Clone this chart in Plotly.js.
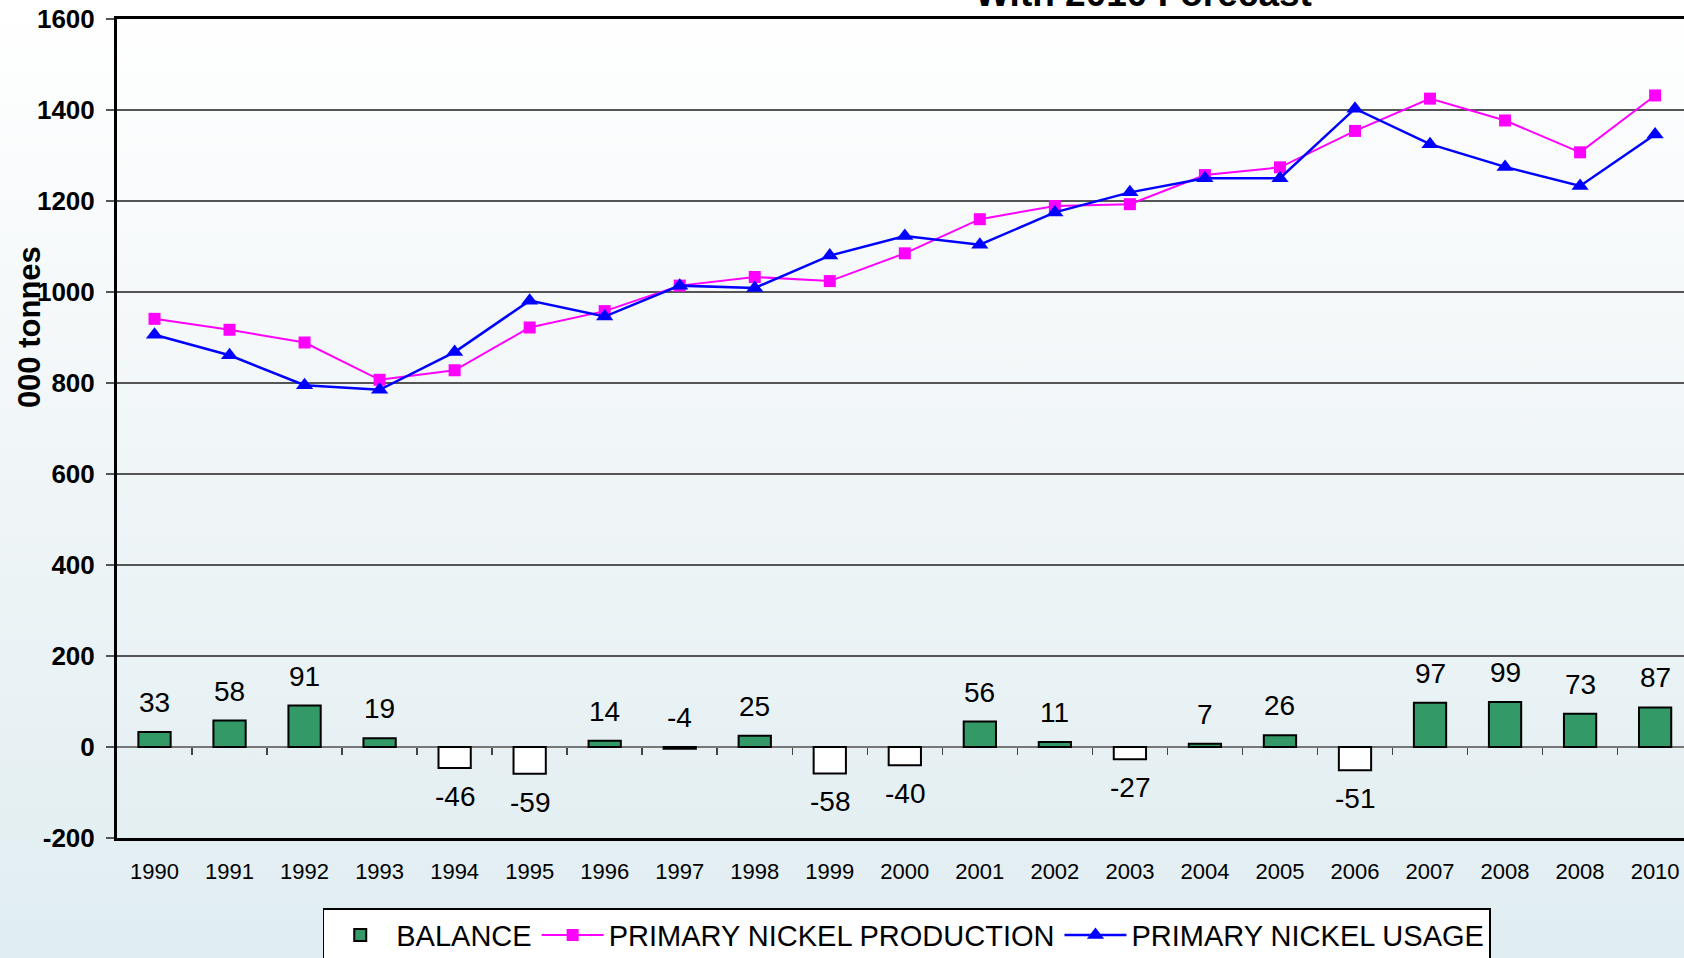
<!DOCTYPE html>
<html><head><meta charset="utf-8">
<script src="https://cdn.plot.ly/plotly-3.0.1.min.js"></script>
<style>
html,body{margin:0;padding:0;width:1684px;height:958px;overflow:hidden;
background:linear-gradient(to bottom,#ffffff 0%,#f1f6f8 45%,#e0edf1 100%);}
#chart{width:1684px;height:958px;}
</style></head><body><div id="chart"></div>
<script>
// ---- data ----
const categories = ['1990','1991','1992','1993','1994','1995','1996','1997','1998','1999','2000',
                    '2001','2002','2003','2004','2005','2006','2007','2008','2008','2010'];
const balance    = [33, 58, 91, 19, -46, -59, 14, -4, 25, -58, -40, 56, 11, -27, 7, 26, -51, 97, 99, 73, 87];
const production = [941, 917, 889, 807, 828, 922, 958, 1014, 1033, 1024, 1085, 1160, 1189, 1193, 1257, 1274, 1354, 1425, 1377, 1307, 1432];
const usage      = [906, 861, 795, 785, 868, 981, 946, 1014, 1009, 1080, 1123, 1104, 1175, 1219, 1250, 1250, 1403, 1325, 1275, 1233, 1346];
const yTicks     = [-200, 0, 200, 400, 600, 800, 1000, 1200, 1400, 1600];
const yTickText  = ['-200', '0', '200', '400', '600', '800', '1000', '1200', '1400', '1600'];
const seriesNames = ['BALANCE', 'PRIMARY NICKEL PRODUCTION', 'PRIMARY NICKEL USAGE'];
const titleText = 'With 2010 Forecast';
const yTitle = '000 tonnes';

const FONT = 'Liberation Sans, Arial, sans-serif';
const idx = categories.map((_, i) => i);
const yRange = [-200, 1600];
const xRange = [-0.5, 20.385];

const traces = [
  {
    type: 'bar', name: seriesNames[0], x: idx, y: balance, width: 0.43,
    marker: { color: balance.map(v => v >= 0 ? '#339966' : '#ffffff'), line: { color: '#000', width: 2 } },
    hoverinfo: 'skip'
  },
  {
    type: 'scatter', mode: 'lines+markers', name: seriesNames[1], x: idx, y: production,
    line: { color: '#ff00ff', width: 2 },
    marker: { symbol: 'square', size: 12, color: '#ff00ff' }, hoverinfo: 'skip'
  },
  {
    type: 'scatter', mode: 'lines+markers', name: seriesNames[2], x: idx, y: usage,
    line: { color: '#0000ff', width: 2.5 },
    marker: { symbol: 'triangle-up', size: 15, color: '#0000ff' }, hoverinfo: 'skip'
  },
  { type: 'scatter', x: [], y: [], xaxis: 'x2', showlegend: false, hoverinfo: 'skip' }
];

const labelAnns = balance.map((v, i) => {
  const above = v > -10;
  return {
    x: i, y: above ? Math.max(v, 0) : v, xref: 'x', yref: 'y',
    text: String(v), showarrow: false,
    yanchor: above ? 'bottom' : 'top', yshift: above ? 12 : -11,
    font: { family: FONT, size: 28, color: '#000' }
  };
});

const layout = {
  width: 1684, height: 958,
  margin: { l: 117, r: 0, t: 19, b: 120, pad: 0, autoexpand: false },
  paper_bgcolor: 'rgba(0,0,0,0)', plot_bgcolor: 'rgba(0,0,0,0)',
  font: { family: FONT, color: '#000' },
  showlegend: true,
  legend: {
    orientation: 'h', x: 0.1313, y: -0.0857, xanchor: 'left', yanchor: 'top',
    bgcolor: '#ffffff', bordercolor: '#000', borderwidth: 1.5,
    font: { family: FONT, size: 29, color: '#000' }, itemwidth: 62, traceorder: 'normal'
  },
  xaxis: {
    type: 'linear', range: xRange, tickmode: 'array', tickvals: idx, ticktext: categories,
    showgrid: false, zeroline: false, showline: true, linecolor: '#000', linewidth: 3, mirror: true,
    ticks: '', tickfont: { family: FONT, size: 22, color: '#000' }, ticklabelstandoff: 12,
    fixedrange: true
  },
  xaxis2: {
    type: 'linear', overlaying: 'x', anchor: 'free',
    position: (0 - yRange[0]) / (yRange[1] - yRange[0]),
    range: xRange, tickmode: 'array', tickvals: idx.slice(0, -1).map(i => i + 0.5),
    ticks: 'outside', ticklen: 7, tickwidth: 1.5, tickcolor: '#444',
    showticklabels: false, showgrid: false, zeroline: false, showline: false, fixedrange: true
  },
  yaxis: {
    range: yRange, tickmode: 'array', tickvals: yTicks, ticktext: yTickText,
    showgrid: true, gridcolor: '#555', gridwidth: 1.5,
    zeroline: true, zerolinecolor: '#777', zerolinewidth: 2.5,
    showline: true, linecolor: '#000', linewidth: 3,
    ticks: 'outside', ticklen: 8, tickwidth: 1.5, tickcolor: '#555',
    tickfont: { family: FONT, size: 26, color: '#000', weight: 'bold' }, ticklabelstandoff: 6,
    fixedrange: true
  },
  annotations: [
    {
      text: titleText, xref: 'paper', yref: 'paper', x: 0.6548, y: (839 - 7) / 820,
      xanchor: 'center', yanchor: 'bottom', yshift: -9, showarrow: false,
      font: { family: FONT, size: 37, color: '#000', weight: 'bold' }
    },
    {
      text: yTitle, xref: 'paper', yref: 'paper', x: (29.5 - 117) / 1567, y: (839 - 328) / 820,
      xanchor: 'center', yanchor: 'middle', textangle: -90, showarrow: false,
      font: { family: FONT, size: 31, color: '#000', weight: 'bold' }
    }
  ].concat(labelAnns)
};

Plotly.newPlot('chart', traces, layout, { staticPlot: true, displayModeBar: false });
</script></body></html>
